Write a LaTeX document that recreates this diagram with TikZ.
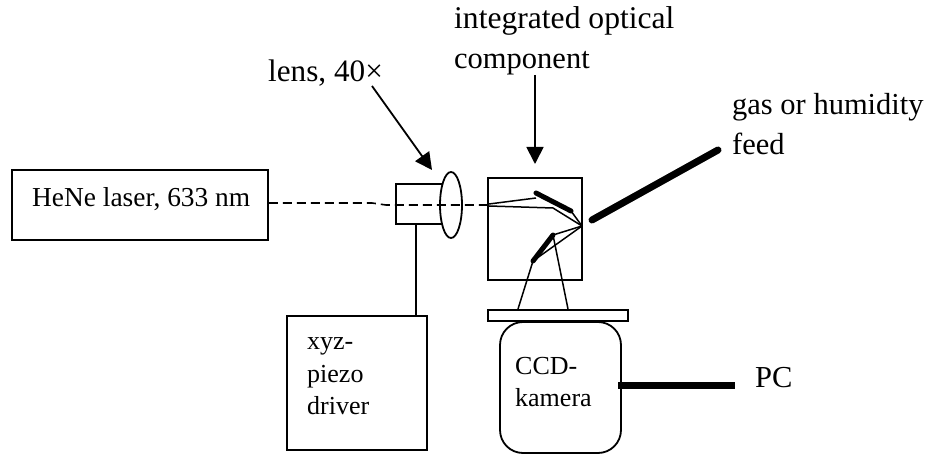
\documentclass[tikz,border=0pt]{standalone}
\usepackage{fontspec}
\setmainfont{Liberation Serif}
\usetikzlibrary{arrows.meta,shapes.geometric}
\tikzset{
 box/.style={draw=black,line width=1.8pt,fill=none,inner sep=0pt},
 thin line/.style={draw=black,line width=1.8pt},
 beam/.style={draw=black,line width=1.5pt},
 dashbeam/.style={draw=black,line width=1.6pt,dash pattern=on 9pt off 5pt},
 heavy/.style={draw=black,line width=7pt,line cap=round},
 mirror/.style={draw=black,line width=5pt,line cap=round},
 pointer/.style={draw=black,line width=1.8pt,-{Triangle[length=17pt,width=17pt]}},
 lbl/.style={font=\fontsize{26}{30}\selectfont,inner sep=0pt,anchor=base west,align=left},
 lblb/.style={font=\fontsize{30.5}{34}\selectfont,inner sep=0pt,anchor=base west,align=left},
}
\begin{document}
\begin{tikzpicture}[x=1pt,y=-1pt]
\useasboundingbox (0,0) rectangle (930,454);
\node[box,minimum width=256pt,minimum height=70pt] (laser) at (140,205) {};
\node[lbl,font=\fontsize{27.4}{30}\selectfont] (laserT) at (32,207) {HeNe laser, 633 nm};
\node[box,minimum width=47pt,minimum height=40pt] (holder) at (419.5,204) {};
\node[box,ellipse,fill=white,minimum width=22pt,minimum height=66pt] (lens) at (451,205) {};
\node[box,minimum width=94pt,minimum height=102pt] (comp) at (535,229) {};
\node[box,minimum width=140pt,minimum height=11pt] (plate) at (558,315.5) {};
\node[box,rounded corners=23pt,minimum width=121pt,minimum height=131pt] (cam) at (560.5,387.5) {};
\node[box,minimum width=140pt,minimum height=134pt] (driver) at (357,383) {};
\coordinate (b1) at (372,203);
\coordinate (b2) at (386,205);
\coordinate (r1) at (488,205);
\draw[dashbeam] (laser.east |- 0,203) -- (b1) -- (b2) -- (r1);
\draw[thin line] (416,224) -- (driver.north -| 416,0);
% inner optics
\coordinate (m1a) at (536,193); \coordinate (m1b) at (571,211);
\coordinate (m2a) at (533,261); \coordinate (m2b) at (553,235);
\coordinate (c) at (582,226);
\coordinate (r0) at (489,204);
\coordinate (r2) at (489,206);
\coordinate (f1) at (536,198);
\coordinate (f2) at (553,208);
\draw[mirror] (m1a) -- (m1b);
\draw[mirror] (m2a) -- (m2b);
\draw[beam] (r0) -- (f1);
\draw[beam] (r2) -- (f2) -- (c);
\draw[beam] (m1b) -- (c);
\draw[beam] (c) -- (m2b);
\draw[beam] (c) -- (m2a);
\draw[beam] (m2a) -- (518,309);
\draw[beam] (m2b) -- (568,309);
\draw[heavy] (592,220) -- (718,150);
\draw[draw=black,line width=7pt] (618,385.5) -- (735,385.5);
\coordinate (lensT) at (372,86);
\coordinate (lensH) at (432,170);
\draw[pointer] (lensT) -- (lensH);
\coordinate (compT) at (535,75);
\coordinate (compH) at (535,164);
\draw[pointer] (compT) -- (compH);
\node[lblb,font=\fontsize{31.6}{34}\selectfont] (t1) at (454,29) {integrated optical};
\node[lblb] (t2) at (454,69) {component};
\node[lblb,font=\fontsize{31.2}{34}\selectfont] (t3) at (268,82) {lens, 40×};
\node[lblb] (t4) at (732,115) {gas or humidity};
\node[lblb] (t5) at (732,155) {feed};
\node[lbl] (t6) at (307,350) {xyz-};
\node[lbl] (t7) at (307,383) {piezo};
\node[lbl] (t8) at (307,415) {driver};
\node[lbl] (t9) at (515,375) {CCD-};
\node[lbl] (t10) at (515,407) {kamera};
\node[lblb] (t11) at (755,388) {PC};
\end{tikzpicture}
\end{document}
